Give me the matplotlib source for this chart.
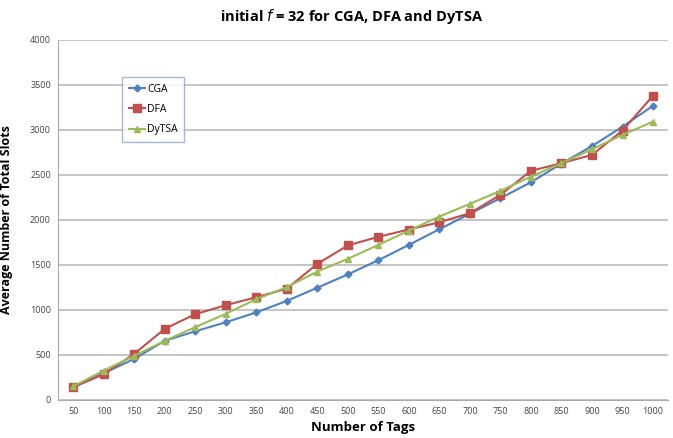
import matplotlib
matplotlib.use('Agg')
import matplotlib.pyplot as plt
import numpy as np

# number of tags on the category axis
tags = ['50', '100', '150', '200', '250', '300', '350', '400', '450', '500',
        '550', '600', '650', '700', '750', '800', '850', '900', '950', '1000']

# average number of total slots per algorithm
cga = [145, 296, 455, 656, 762, 862, 972, 1100, 1246, 1394,
       1552, 1722, 1896, 2068, 2241, 2418, 2625, 2820, 3035, 3268]
dfa = [140, 285, 511, 789, 952, 1052, 1141, 1235, 1511, 1716,
       1812, 1893, 1974, 2074, 2278, 2545, 2630, 2722, 2992, 3380]
dytsa = [150, 326, 489, 656, 808, 956, 1119, 1252, 1426, 1567,
         1722, 1880, 2037, 2178, 2322, 2480, 2630, 2785, 2944, 3092]

plt.rcParams['font.family'] = ['Open Sans', 'DejaVu Sans']

fig = plt.figure(figsize=(6.73, 4.38), dpi=100)
ax = fig.add_axes([0.086, 0.087, 0.907, 0.822])

x = np.arange(len(tags))
ax.plot(x, cga, color='#4F81BD', marker='D', markersize=3.5, linewidth=1.5, label='CGA')
ax.plot(x, dfa, color='#C0504D', marker='s', markersize=6, linewidth=1.5, label='DFA')
ax.plot(x, dytsa, color='#9BBB59', marker='^', markersize=5, linewidth=1.5, label='DyTSA')

ax.set_xlim(-0.5, len(tags) - 0.5)
ax.set_ylim(0, 4000)
ax.set_yticks(np.arange(0, 4001, 500))
ax.set_xticks(x)
ax.set_xticklabels(tags)
ax.tick_params(axis='both', labelsize=6.5, colors='#444444', length=0, pad=5)

ax.grid(axis='y', color='#bbbbbb', linewidth=1.2)
ax.set_axisbelow(True)
for side in ['top', 'right']:
    ax.spines[side].set_visible(False)
for side in ['left', 'bottom']:
    ax.spines[side].set_color('#aaaaaa')

ax.set_xlabel('Number of Tags', fontsize=9.5, fontweight='bold', labelpad=4)
ax.set_ylabel('Average Number of Total Slots', fontsize=9, fontweight='bold', labelpad=12)
fig.suptitle(r'initial $\mathit{f}$ = 32 for CGA, DFA and DyTSA', fontsize=10.5,
             fontweight='bold', x=0.522, y=0.985)

leg = ax.legend(loc='upper left', bbox_to_anchor=(0.097, 0.91), fontsize=7.5,
                frameon=True, fancybox=False, handlelength=1.6, handletextpad=0.2,
                labelspacing=0.9, borderpad=0.6)
leg.get_frame().set_edgecolor('#8ea4c8')
leg.get_frame().set_linewidth(1)

fig.savefig('out.png', dpi=100)
